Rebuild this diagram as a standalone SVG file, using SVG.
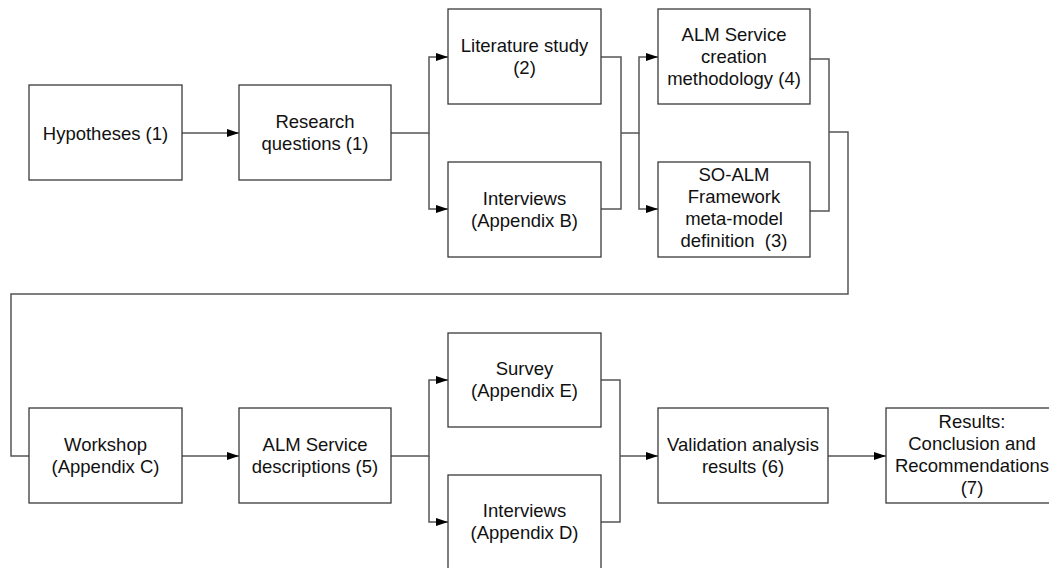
<svg xmlns="http://www.w3.org/2000/svg" width="1049" height="568" viewBox="0 0 1049 568">
  <defs>
    <marker id="arrow" markerUnits="userSpaceOnUse" markerWidth="13" markerHeight="9" refX="12" refY="4" orient="auto">
      <path d="M0,0 L12,4 L0,8 Z" fill="#000"/>
    </marker>
    <style>
      .box { fill: #fff; stroke: #3a3a3a; stroke-width: 1.3; }
      .lbl { font-family: "Liberation Sans", Arial, sans-serif; font-size: 18.5px; fill: #111; text-anchor: middle; }
      .conn { fill: none; stroke: #555; stroke-width: 1.5; }
      .arr { marker-end: url(#arrow); }
    </style>
  </defs>
  <rect width="1049" height="568" fill="#fff"/>

  <!-- connectors -->
  <g id="connectors">
    <path class="conn arr" d="M182 133 H239"/>
    <path class="conn arr" d="M391 133 H429 V57 H448"/>
    <path class="conn arr" d="M429 133 V209 H448"/>
    <path class="conn" d="M601 57 H621 V209 H601"/>
    <path class="conn arr" d="M621 133 H639 V57 H658"/>
    <path class="conn arr" d="M639 133 V209 H658"/>
    <path class="conn" d="M810 59 H829 V211 H810"/>
    <path class="conn" d="M829 132 H848 V294 H11 V456 H29"/>
    <path class="conn arr" d="M182 456 H239"/>
    <path class="conn arr" d="M391 456 H429 V380 H448"/>
    <path class="conn arr" d="M429 456 V522 H448"/>
    <path class="conn" d="M601 380 H620 V522 H601"/>
    <path class="conn arr" d="M620 456 H658"/>
    <path class="conn arr" d="M828 456 H886"/>
  </g>

  <!-- row 1 -->
  <g id="hypotheses">
    <rect class="box" x="29" y="85" width="153" height="95"/>
    <text class="lbl" x="105.5" y="139.5">Hypotheses (1)</text>
  </g>
  <g id="research-questions">
    <rect class="box" x="239" y="85" width="152" height="95"/>
    <text class="lbl" x="315" y="127.5">Research</text>
    <text class="lbl" x="315" y="149.5">questions (1)</text>
  </g>
  <g id="literature-study">
    <rect class="box" x="448" y="9" width="153" height="95"/>
    <text class="lbl" x="524.5" y="51.5">Literature study</text>
    <text class="lbl" x="524.5" y="73.5">(2)</text>
  </g>
  <g id="interviews-b">
    <rect class="box" x="448" y="162" width="153" height="95"/>
    <text class="lbl" x="524.5" y="204.5">Interviews</text>
    <text class="lbl" x="524.5" y="226.5">(Appendix B)</text>
  </g>
  <g id="alm-service-creation">
    <rect class="box" x="658" y="9" width="152" height="95"/>
    <text class="lbl" x="734" y="41">ALM Service</text>
    <text class="lbl" x="734" y="63">creation</text>
    <text class="lbl" x="734" y="85">methodology (4)</text>
  </g>
  <g id="so-alm-framework">
    <rect class="box" x="658" y="162" width="152" height="95"/>
    <text class="lbl" x="734" y="181">SO-ALM</text>
    <text class="lbl" x="734" y="203">Framework</text>
    <text class="lbl" x="734" y="225">meta-model</text>
    <text class="lbl" x="734" y="247">definition&#160; (3)</text>
  </g>

  <!-- row 2 -->
  <g id="workshop">
    <rect class="box" x="29" y="408" width="153" height="95"/>
    <text class="lbl" x="105.5" y="450.5">Workshop</text>
    <text class="lbl" x="105.5" y="472.5">(Appendix C)</text>
  </g>
  <g id="alm-service-descriptions">
    <rect class="box" x="239" y="408" width="152" height="95"/>
    <text class="lbl" x="315" y="450.5">ALM Service</text>
    <text class="lbl" x="315" y="472.5">descriptions (5)</text>
  </g>
  <g id="survey">
    <rect class="box" x="448" y="333" width="153" height="94"/>
    <text class="lbl" x="524.5" y="375">Survey</text>
    <text class="lbl" x="524.5" y="397">(Appendix E)</text>
  </g>
  <g id="interviews-d">
    <rect class="box" x="448" y="475" width="153" height="95"/>
    <text class="lbl" x="524.5" y="517">Interviews</text>
    <text class="lbl" x="524.5" y="539">(Appendix D)</text>
  </g>
  <g id="validation-analysis">
    <rect class="box" x="658" y="408" width="170" height="95"/>
    <text class="lbl" x="743" y="450.5">Validation analysis</text>
    <text class="lbl" x="743" y="472.5">results (6)</text>
  </g>
  <g id="results">
    <rect class="box" x="886" y="408" width="175" height="95"/>
    <text class="lbl" x="972" y="428">Results:</text>
    <text class="lbl" x="972" y="450">Conclusion and</text>
    <text class="lbl" x="972" y="472">Recommendations</text>
    <text class="lbl" x="972" y="494">(7)</text>
  </g>
</svg>
